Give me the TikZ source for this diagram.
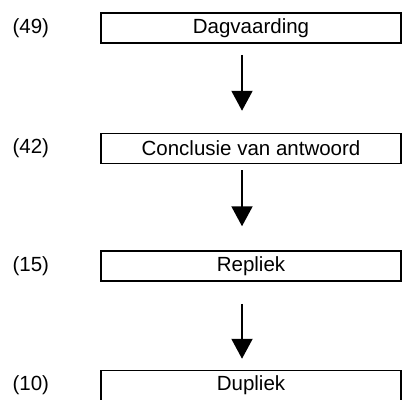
\documentclass[tikz,border=0pt]{standalone}
\usepackage{fontspec}
\setmainfont{Liberation Sans}
\usetikzlibrary{arrows.meta, positioning}
\tikzset{
  stage/.style={rectangle,draw=black,line width=1.5pt,minimum width=300pt,minimum height=30pt,inner sep=0pt,font=\fontsize{20.5}{21}\selectfont},
  stagenr/.style={inner sep=0pt,font=\fontsize{20.5}{21}\selectfont},
  flow/.style={line width=2pt,-{Triangle[length=20pt,width=21pt]}},
}

\begin{document}
\begin{tikzpicture}[x=1pt,y=-1pt]
	    \useasboundingbox (0,0) rectangle (403,399);
	    \node[stage] (DAG) at (251,28) {Dagvaarding};
	    \node[stage,below=89pt of DAG] (CON) {Conclusie van antwoord};
	    \node[stage,below=86pt of CON] (REP) {Repliek};
	    \node[stage,below=88pt of REP] (DUP) {Dupliek};
	    \node[stagenr,left=51pt of DAG] (NDAG) {(49)};
	    \node[stagenr,left=51pt of CON] (NCON) {(42)};
	    \node[stagenr,left=51pt of REP] (NREP) {(15)};
	    \node[stagenr,left=51pt of DUP] (NDUP) {(10)};
	    \draw[flow,shorten <=11pt,shorten >=22pt] ([xshift=-9pt]DAG.south) -- ([xshift=-9pt]CON.north);
	    \draw[flow,shorten <=6pt,shorten >=24pt] ([xshift=-9pt]CON.south) -- ([xshift=-9pt]REP.north);
	    \draw[flow,shorten <=22pt,shorten >=11pt] ([xshift=-9pt]REP.south) -- ([xshift=-9pt]DUP.north);
	\end{tikzpicture}
\end{document}
